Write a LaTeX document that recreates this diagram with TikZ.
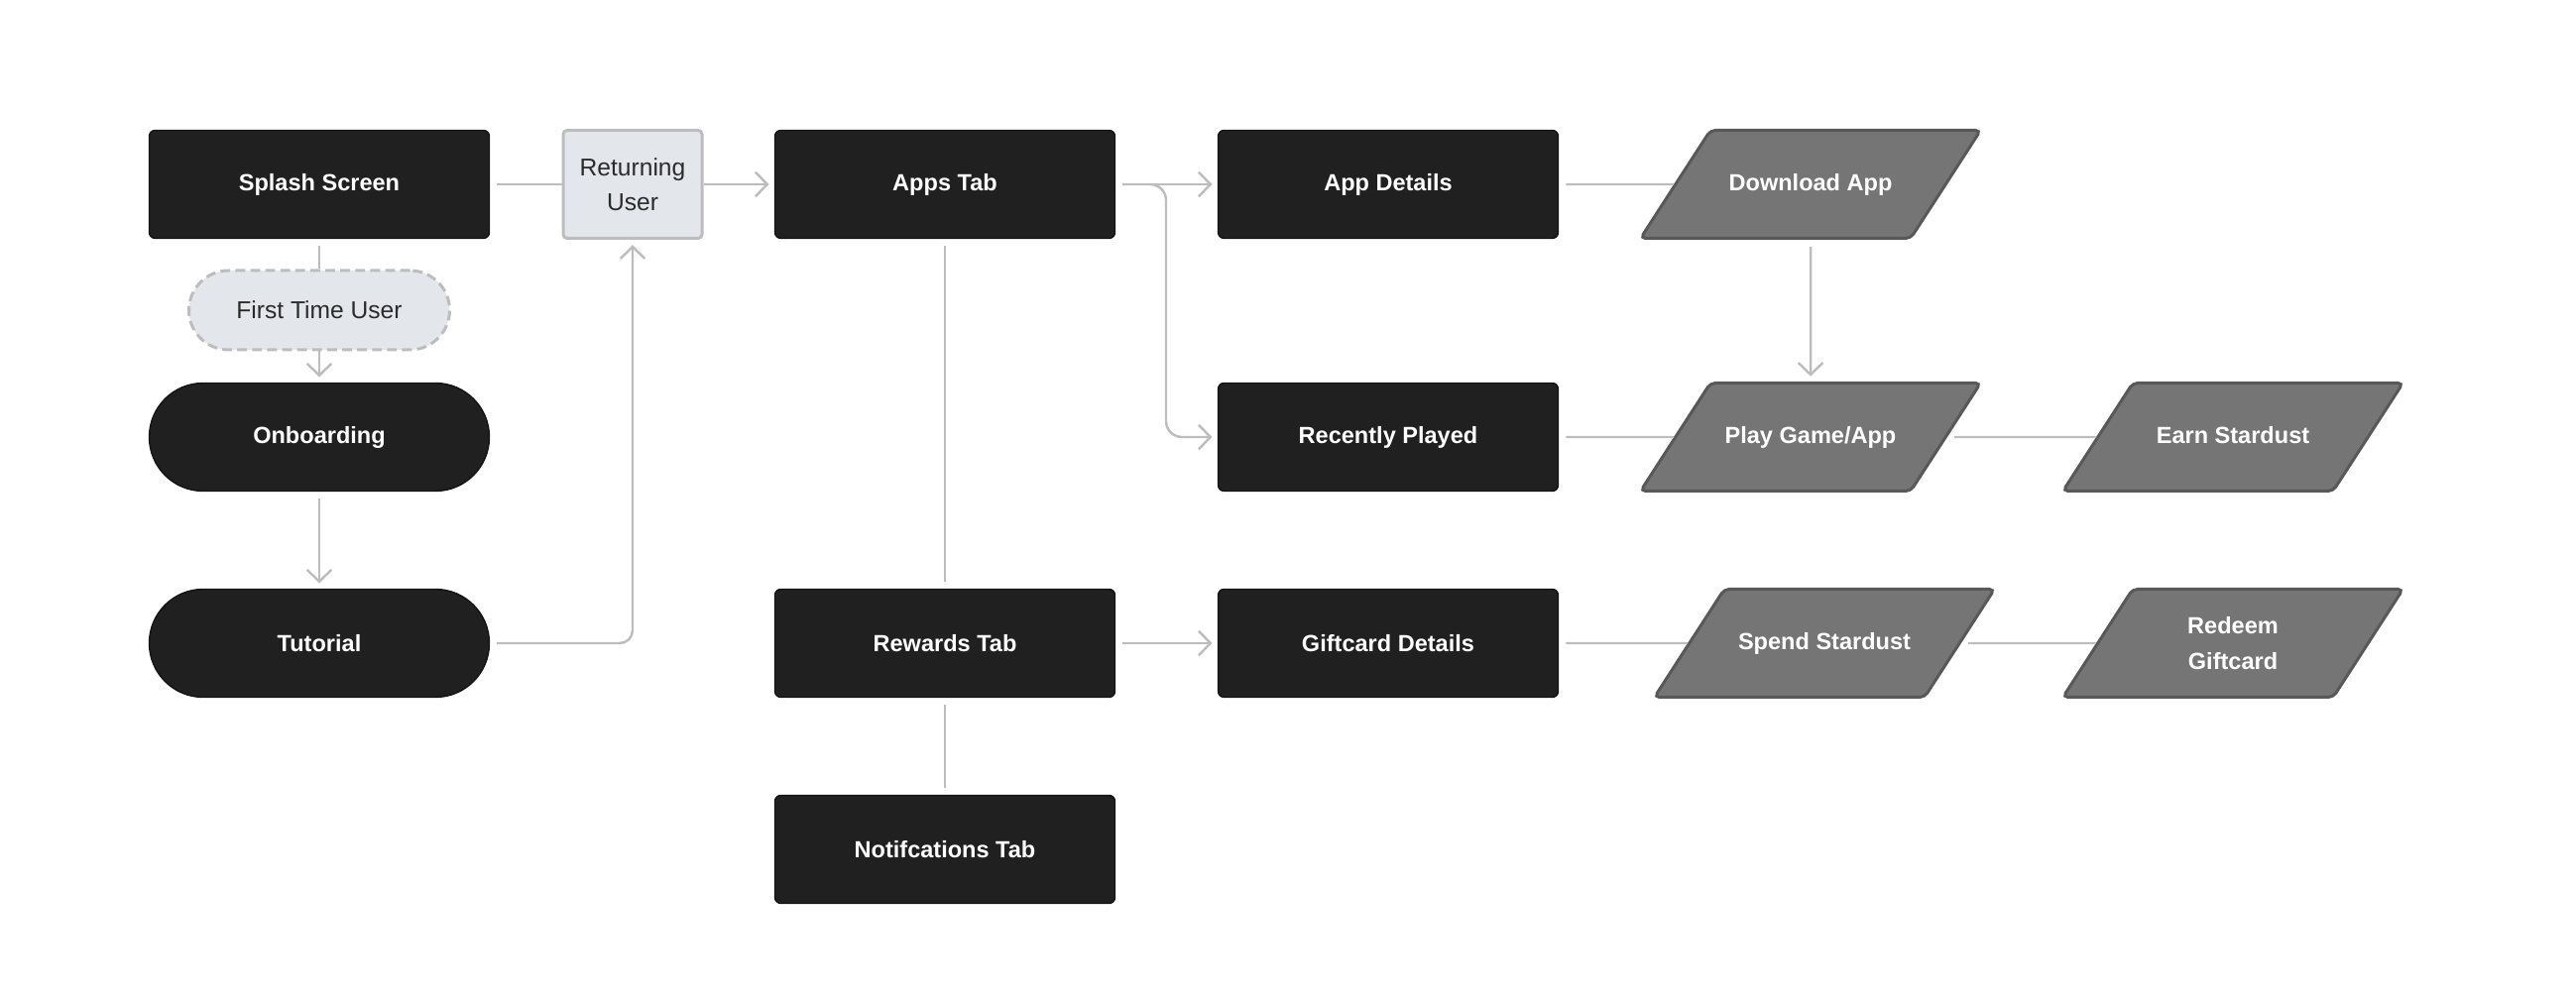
\documentclass[tikz,border=0pt]{standalone}
\usepackage{fontspec}
\setmainfont{Liberation Sans}
\usetikzlibrary{shapes.geometric,arrows.meta}
\definecolor{screenfill}{RGB}{32,32,32}
\definecolor{actionfill}{RGB}{117,117,117}
\definecolor{actionedge}{RGB}{88,88,88}
\definecolor{userfill}{RGB}{227,230,234}
\definecolor{linkgray}{RGB}{189,189,189}
\definecolor{labelgray}{RGB}{43,43,43}

\begin{document}
\begin{tikzpicture}[x=1cm, y=1cm,
    screen/.style={draw=black!92, fill=screenfill, line width=0.4pt, rounded corners=0.06cm,
      minimum width=3.43cm, minimum height=1.09cm, text=white,
      font=\fontsize{6.7}{9}\selectfont\bfseries},
    pill/.style={screen, rounded corners=0.545cm},
    action/.style={trapezium, trapezium left angle=57, trapezium right angle=123,
      trapezium stretches body=true, minimum width=3.43cm, minimum height=1.09cm,
      inner xsep=1pt, inner ysep=12.2pt, text height=5pt, text depth=1.5pt,
      draw=actionedge, fill=actionfill, line width=0.85pt, rounded corners=0.05cm,
      text=white, align=center, font=\fontsize{6.7}{10.3}\selectfont\bfseries},
    user/.style={draw=linkgray, fill=userfill, line width=0.85pt, text=labelgray,
      align=center, font=\fontsize{7}{9.9}\selectfont},
    link/.style={draw=linkgray, line width=0.7pt, shorten <=2pt},
    flow/.style={link, -{Straight Barb[length=3.4pt, width=7pt]}, shorten >=1.5pt}]
  \useasboundingbox (0,0) rectangle (25.98,10.08);
  % the screens, row by row
  \node[screen] (splash) at (3.22,8.22) {Splash Screen};
  \node[user, minimum width=1.40cm, minimum height=1.09cm, rounded corners=0.04cm]
    (returning) at (6.38,8.22) {Returning\\User};
  \node[screen] (apps) at (9.53,8.22) {Apps Tab};
  \node[screen] (details) at (14.00,8.22) {App Details};
  \node[action] (download) at (18.26,8.22) {Download App};
  \node[user, dash pattern=on 2.8pt off 1.5pt, rounded corners=0.4cm,
    minimum width=2.63cm, minimum height=0.80cm] (firsttime) at (3.22,6.95) {First Time User};
  \node[pill] (onboarding) at (3.22,5.67) {Onboarding};
  \node[screen] (recent) at (14.00,5.67) {Recently Played};
  \node[action] (play) at (18.26,5.67) {Play Game/App};
  \node[action] (earn) at (22.52,5.67) {Earn Stardust};
  \node[pill] (tutorial) at (3.22,3.59) {Tutorial};
  \node[screen] (rewards) at (9.53,3.59) {Rewards Tab};
  \node[screen] (giftcard) at (14.00,3.59) {Giftcard Details};
  \node[action] (spend) at (18.40,3.59) {Spend Stardust};
  \node[action, text height=, text depth=, inner ysep=7.8pt] (redeem) at (22.52,3.59) {Redeem\\Giftcard};
  \node[screen] (notif) at (9.53,1.51) {Notifcations Tab};
  \coordinate (split) at (11.76,8.22);
  % onboarding path
  \draw[link] (splash) -- (returning);
  \draw[flow, shorten <=0pt] (returning) -- (apps);
  \draw[link] (splash) -- (firsttime);
  \draw[flow, shorten <=0pt] (firsttime) -- (onboarding);
  \draw[flow] (onboarding) -- (tutorial);
  \draw[flow, rounded corners=0.13cm] (tutorial) -| (returning);
  % tabs
  \draw[flow] (apps) -- (details);
  \draw[flow, rounded corners=0.16cm] (apps) -- (split) |- (recent);
  \draw[link, shorten >=2pt] (apps) -- (rewards);
  \draw[flow] (rewards) -- (giftcard);
  \draw[link, shorten >=2pt] (rewards) -- (notif);
  % actions
  \draw[link] (details) -- (download);
  \draw[flow] (download) -- (play);
  \draw[link] (recent) -- (play);
  \draw[link] (play) -- (earn);
  \draw[link] (giftcard) -- (spend);
  \draw[link] (spend) -- (redeem);
\end{tikzpicture}
\end{document}
